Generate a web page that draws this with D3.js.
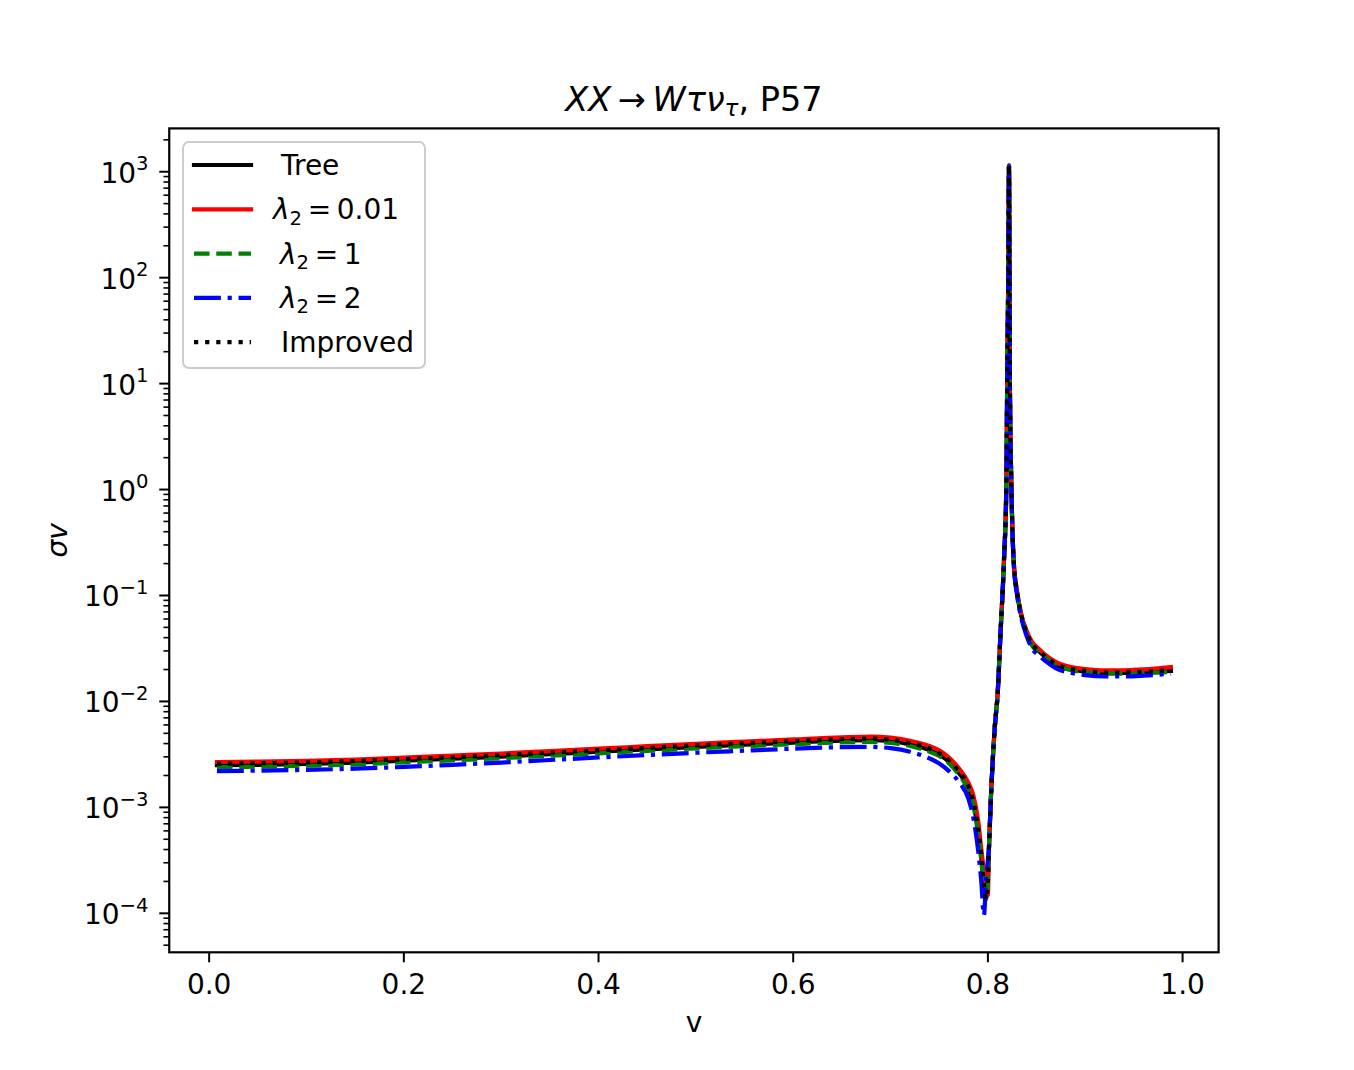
<!DOCTYPE html>
<html>
<head>
<meta charset="utf-8">
<script src="https://cdn.jsdelivr.net/npm/d3@7"></script>
<style>
  body { margin: 0; background: #fff; }
  text { font-family: "DejaVu Sans", sans-serif; fill: #000; }
</style>
</head>
<body>
<script>
// shared v grid (denser around the dip and the resonance)
const vValues = [
  0.008, 0.05, 0.1, 0.15, 0.2, 0.25, 0.3, 0.35, 0.4, 0.45, 0.5, 0.55, 0.6, 0.65, 0.68,
  0.7, 0.72, 0.74, 0.75, 0.76, 0.77, 0.78, 0.785, 0.79, 0.793, 0.796, 0.798, 0.8, 0.801,
  0.803, 0.807, 0.81, 0.813, 0.8165, 0.819, 0.8198, 0.8209, 0.8217, 0.8222, 0.8226, 0.8241,
  0.8265, 0.83, 0.8345, 0.84, 0.845, 0.853, 0.86, 0.87, 0.887, 0.9, 0.92, 0.94, 0.96, 0.988
];

const treeValues = [
  2.50e-3, 2.52e-3, 2.57e-3, 2.64e-3, 2.76e-3, 2.88e-3, 3.01e-3, 3.18e-3, 3.35e-3, 3.53e-3, 3.72e-3, 3.91e-3, 4.09e-3, 4.26e-3, 4.31e-3,
  4.21e-3, 3.93e-3, 3.48e-3, 3.15e-3, 2.70e-3, 2.12e-3, 1.52e-3, 1.10e-3, 5.9e-4, 3.5e-4, 1.8e-4, 1.4e-4, 2.1e-4, 3.9e-4,
  1.19e-3, 5.6e-3, 1.18e-2, 4.5e-2, 0.214, 1.14, 10, 100, 1145, 100, 10, 1.13,
  0.21, 0.106, 0.0635, 0.044, 0.0345, 0.0295, 0.0258, 0.0223, 0.0199, 0.0191, 0.0185, 0.0186, 0.0188, 0.0194
];

const lam001Values = [
  2.68e-3, 2.70e-3, 2.75e-3, 2.83e-3, 2.95e-3, 3.08e-3, 3.22e-3, 3.40e-3, 3.58e-3, 3.78e-3, 3.98e-3, 4.18e-3, 4.38e-3, 4.58e-3, 4.65e-3,
  4.55e-3, 4.25e-3, 3.80e-3, 3.45e-3, 2.95e-3, 2.35e-3, 1.70e-3, 1.30e-3, 7.5e-4, 4.2e-4, 2.5e-4, 1.8e-4, 1.48e-4, 3.9e-4,
  1.2e-3, 5.7e-3, 1.2e-2, 4.5e-2, 0.216, 1.15, 10, 100, 1150, 100, 10, 1.15,
  0.216, 0.11, 0.066, 0.046, 0.037, 0.031, 0.027, 0.0235, 0.021, 0.0202, 0.0196, 0.0197, 0.0201, 0.0211
];

const lam1Values = [
  2.40e-3, 2.42e-3, 2.47e-3, 2.54e-3, 2.66e-3, 2.78e-3, 2.91e-3, 3.07e-3, 3.24e-3, 3.42e-3, 3.60e-3, 3.78e-3, 3.95e-3, 4.10e-3, 4.15e-3,
  4.05e-3, 3.80e-3, 3.35e-3, 3.05e-3, 2.60e-3, 2.05e-3, 1.45e-3, 1.05e-3, 5.5e-4, 3.3e-4, 1.7e-4, 1.35e-4, 2.2e-4, 3.9e-4,
  1.18e-3, 5.6e-3, 1.18e-2, 4.5e-2, 0.213, 1.14, 10, 100, 1140, 99, 9.9, 1.12,
  0.208, 0.105, 0.063, 0.0435, 0.034, 0.029, 0.0255, 0.022, 0.0196, 0.0188, 0.0183, 0.0183, 0.0185, 0.0190
];

const lam2Values = [
  2.20e-3, 2.22e-3, 2.26e-3, 2.32e-3, 2.41e-3, 2.52e-3, 2.65e-3, 2.80e-3, 2.96e-3, 3.12e-3, 3.28e-3, 3.43e-3, 3.58e-3, 3.70e-3, 3.72e-3,
  3.62e-3, 3.35e-3, 2.90e-3, 2.60e-3, 2.20e-3, 1.75e-3, 1.20e-3, 8.0e-4, 3.9e-4, 2.1e-4, 9.6e-5, 2.0e-4, 3.2e-4, 4.0e-4,
  1.15e-3, 5.5e-3, 1.15e-2, 4.4e-2, 0.21, 1.12, 10, 100, 1120, 98, 9.8, 1.1,
  0.2, 0.1, 0.06, 0.041, 0.032, 0.027, 0.0237, 0.0205, 0.0185, 0.0177, 0.0172, 0.0172, 0.0175, 0.0183
];

const improvedValues = [
  2.59e-3, 2.61e-3, 2.66e-3, 2.74e-3, 2.85e-3, 2.97e-3, 3.11e-3, 3.28e-3, 3.45e-3, 3.64e-3, 3.84e-3, 4.03e-3, 4.22e-3, 4.40e-3, 4.45e-3,
  4.35e-3, 4.05e-3, 3.60e-3, 3.25e-3, 2.78e-3, 2.20e-3, 1.58e-3, 1.15e-3, 6.3e-4, 3.7e-4, 1.9e-4, 1.35e-4, 2.0e-4, 3.9e-4,
  1.2e-3, 5.65e-3, 1.19e-2, 4.5e-2, 0.215, 1.15, 10, 100, 1150, 100, 10, 1.14,
  0.212, 0.107, 0.064, 0.0445, 0.035, 0.030, 0.026, 0.0226, 0.0202, 0.0194, 0.0187, 0.0188, 0.0191, 0.0197
];

const xTicks = [0.0, 0.2, 0.4, 0.6, 0.8, 1.0];
const yExponents = [-4, -3, -2, -1, 0, 1, 2, 3];

const width = 1354;
const height = 1070;
const plot = { left: 169.25, right: 1218.6, top: 128.4, bottom: 952.3 };
const lw = 4.2;
const fs = 28;

const series = [
  { values: treeValues, color: "#000000", dash: null, label: "tree" },
  { values: lam001Values, color: "#ff0000", dash: null, label: "0.01" },
  { values: lam1Values, color: "#008000", dash: [3.7 * lw, 1.6 * lw], label: "1" },
  { values: lam2Values, color: "#0000ff", dash: [6.4 * lw, 1.6 * lw, 1 * lw, 1.6 * lw], label: "2" },
  { values: improvedValues, color: "#000000", dash: [1 * lw, 1.65 * lw], label: "improved" }
];

const svg = d3.select("body")
  .append("svg")
  .attr("width", width)
  .attr("height", height)
  .style("background", "#fff");

const x = d3.scaleLinear().domain([-0.041, 1.037]).range([plot.left, plot.right]);
const y = d3.scaleLog()
  .domain([Math.pow(10, -4.368), Math.pow(10, 3.409)])
  .range([plot.bottom, plot.top]);

svg.append("clipPath").attr("id", "clip")
  .append("rect")
  .attr("x", plot.left).attr("y", plot.top)
  .attr("width", plot.right - plot.left).attr("height", plot.bottom - plot.top);

// curves
const line = d3.line()
  .x(d => x(d[0]))
  .y(d => y(d[1]))
  .curve(d3.curveMonotoneX);

const lines = svg.append("g").attr("clip-path", "url(#clip)");
series.forEach(s => {
  const pts = vValues.map((v, i) => [v, s.values[i]]);
  lines.append("path")
    .attr("d", line(pts))
    .attr("fill", "none")
    .attr("stroke", s.color)
    .attr("stroke-width", lw)
    .attr("stroke-linejoin", "round")
    .attr("stroke-linecap", s.dash ? "butt" : "square")
    .attr("stroke-dasharray", s.dash ? s.dash.join(",") : null);
});

// frame
svg.append("rect")
  .attr("x", plot.left).attr("y", plot.top)
  .attr("width", plot.right - plot.left).attr("height", plot.bottom - plot.top)
  .attr("fill", "none").attr("stroke", "#000").attr("stroke-width", 2.2);

// x axis
const xAxis = svg.append("g");
xTicks.forEach(t => {
  xAxis.append("line")
    .attr("x1", x(t)).attr("x2", x(t))
    .attr("y1", plot.bottom).attr("y2", plot.bottom + 10)
    .attr("stroke", "#000").attr("stroke-width", 2);
  xAxis.append("text")
    .attr("x", x(t)).attr("y", 994)
    .attr("text-anchor", "middle")
    .attr("font-size", fs)
    .text(d3.format(".1f")(t));
});

// y axis (log)
const yAxis = svg.append("g");
const [yMin, yMax] = y.domain();
for (let k = -5; k <= 3; k++) {
  for (let m = 2; m <= 9; m++) {
    const val = m * Math.pow(10, k);
    if (val < yMin || val > yMax) continue;
    yAxis.append("line")
      .attr("x1", plot.left - 5.8).attr("x2", plot.left)
      .attr("y1", y(val)).attr("y2", y(val))
      .attr("stroke", "#000").attr("stroke-width", 1.6);
  }
}
yExponents.forEach(e => {
  const py = y(Math.pow(10, e));
  yAxis.append("line")
    .attr("x1", plot.left - 10).attr("x2", plot.left)
    .attr("y1", py).attr("y2", py)
    .attr("stroke", "#000").attr("stroke-width", 2);
  const t = yAxis.append("text")
    .attr("x", 148.5).attr("y", py + 11)
    .attr("text-anchor", "end")
    .attr("font-size", fs);
  t.append("tspan").text("10");
  t.append("tspan")
    .attr("font-size", fs * 0.7)
    .attr("dy", -12.5)
    .text(e < 0 ? "\u2212" + (-e) : String(e));
});

// axis labels
svg.append("text")
  .attr("x", (plot.left + plot.right) / 2).attr("y", 1032)
  .attr("text-anchor", "middle")
  .attr("font-size", fs)
  .text("v");

svg.append("text")
  .attr("transform", `translate(67, ${(plot.top + plot.bottom) / 2}) rotate(-90)`)
  .attr("text-anchor", "middle")
  .attr("font-size", fs)
  .attr("font-style", "italic")
  .text("\u03c3v");

// title
const title = svg.append("text")
  .attr("x", (plot.left + plot.right) / 2).attr("y", 111)
  .attr("text-anchor", "middle")
  .attr("font-size", 33.5);
title.append("tspan").attr("font-style", "italic").text("XX");
title.append("tspan").text("\u2009\u2192\u2009");
title.append("tspan").attr("font-style", "italic").text("W\u03c4\u03bd");
title.append("tspan").attr("font-style", "italic").attr("font-size", 23).attr("dy", 5).text("\u03c4");
title.append("tspan").attr("dy", -5).text(", P57");

// legend
const legend = svg.append("g");
legend.append("rect")
  .attr("x", 183).attr("y", 142)
  .attr("width", 242).attr("height", 226)
  .attr("rx", 6)
  .attr("fill", "#fff").attr("fill-opacity", 0.8)
  .attr("stroke", "#cccccc").attr("stroke-width", 2);

series.forEach((s, i) => {
  const ly = 165 + i * 44.3;
  legend.append("line")
    .attr("x1", 194).attr("x2", 251)
    .attr("y1", ly).attr("y2", ly)
    .attr("stroke", s.color)
    .attr("stroke-width", lw)
    .attr("stroke-linecap", s.dash ? "butt" : "square")
    .attr("stroke-dasharray", s.dash ? s.dash.join(",") : null);

  const t = legend.append("text").attr("y", ly + 10).attr("font-size", fs);
  if (s.label === "tree") {
    t.attr("x", 281).text("Tree");
  } else if (s.label === "improved") {
    t.attr("x", 281).text("Improved");
  } else {
    t.attr("x", s.label === "0.01" ? 273 : 280);
    t.append("tspan").attr("font-style", "italic").text("\u03bb");
    t.append("tspan").attr("font-size", fs * 0.7).attr("dy", 5.5).text("2");
    t.append("tspan").attr("dy", -5.5).text("\u2009=\u2009" + s.label);
  }
});
</script>
</body>
</html>
